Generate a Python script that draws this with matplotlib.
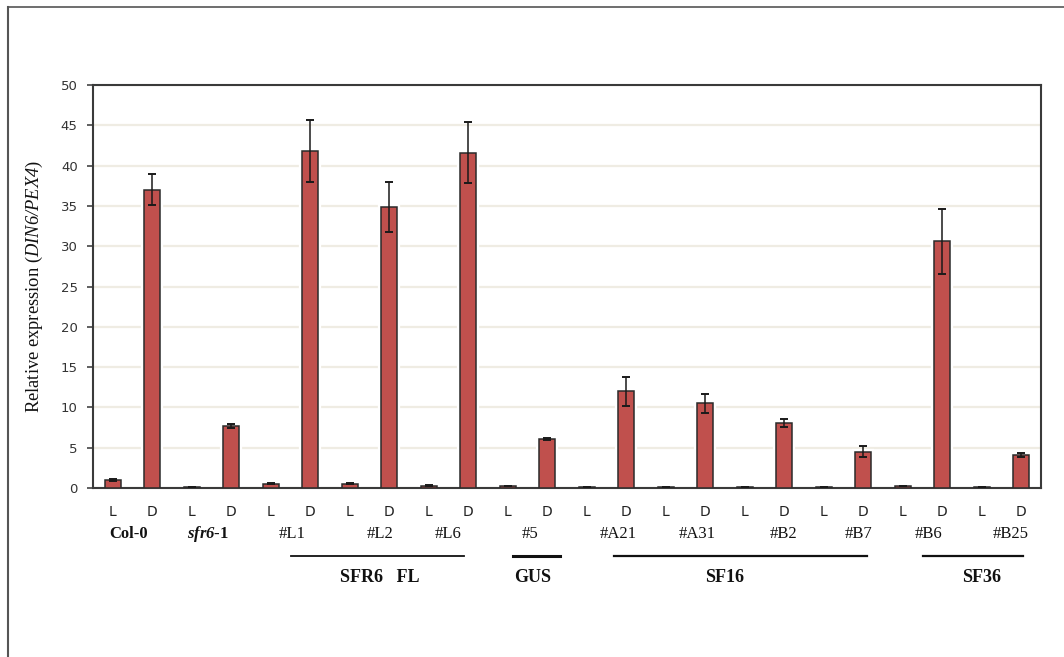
import matplotlib
matplotlib.use("Agg")
import matplotlib.pyplot as plt
from matplotlib.transforms import blended_transform_factory
from matplotlib.lines import Line2D
import numpy as np

# Math segments are used only for italic gene / mutant names
plt.rcParams["mathtext.fontset"] = "custom"
plt.rcParams["mathtext.rm"] = "Liberation Serif:italic"
plt.rcParams["mathtext.it"] = "Liberation Serif:italic"
plt.rcParams["mathtext.bf"] = "Liberation Serif:italic:bold"

# Light (L) / dark (D) pairs for each line
conditions = ["L", "D"] * 12
lines = ["Col-0", r"$\mathbf{sfr6}$-1", "#L1", "#L2", "#L6", "#5",
         "#A21", "#A31", "#B2", "#B7", "#B6", "#B25"]
line_bold = [True, True] + [False] * 10
line_label_x = [0.39, 2.41, 4.54, 6.77, 8.49, 10.56,
                12.79, 14.79, 16.97, 18.87, 20.66, 22.74]

expression = [1.0, 37.0, 0.1, 7.7, 0.55, 41.8, 0.55, 34.9, 0.3, 41.6, 0.25, 6.1,
              0.1, 12.0, 0.1, 10.5, 0.1, 8.1, 0.1, 4.5, 0.25, 30.6, 0.1, 4.1]
errors = [0.08, 1.9, 0.02, 0.2, 0.05, 3.8, 0.05, 3.1, 0.03, 3.8, 0.03, 0.15,
          0.02, 1.8, 0.02, 1.2, 0.02, 0.5, 0.02, 0.7, 0.03, 4.0, 0.02, 0.3]

groups = ["SFR6   FL", "GUS", "SF16", "SF36"]
group_spans = [(4.51, 8.89), (10.13, 11.32), (12.7, 19.1), (20.5, 23.05)]
group_label_x = [6.77, 10.64, 15.5, 22.0]
group_line_width = [1.3, 2.2, 1.6, 1.6]

W, H = 1064, 657
fig = plt.figure(figsize=(W / 100, H / 100), dpi=100)
fig.patch.set_facecolor("white")

# Outer frame (top and left edges)
fig.add_artist(Line2D([8 / W, 1.0], [1 - 7 / H, 1 - 7 / H], transform=fig.transFigure,
                      color="#555555", lw=1.2))
fig.add_artist(Line2D([8 / W, 8 / W], [0.0, 1 - 7 / H], transform=fig.transFigure,
                      color="#555555", lw=1.5))

ax = fig.add_axes([93 / W, 1 - 488 / H, (1041 - 93) / W, (488 - 85) / H])
x = np.arange(len(expression))

ax.set_ylim(0, 50)
ax.set_xlim(-0.5, len(expression) - 0.5)
ax.set_yticks(np.arange(0, 51, 5))
ax.yaxis.grid(True, color="#efece3", lw=1.6, zorder=0)
ax.set_axisbelow(True)

# White halo behind each bar, then the bar itself
ax.bar(x, expression, width=0.41, color="#c0504d", edgecolor="white", lw=4.5, zorder=2)
ax.bar(x, expression, width=0.41, color="#c0504d", edgecolor="#2b2b2b", lw=1.1, zorder=3)
ax.errorbar(x, expression, yerr=errors, fmt="none", ecolor="#1a1a1a", elinewidth=1.1,
            capsize=3.2, capthick=1.4, zorder=4)

ax.set_xticks([])
ax.tick_params(axis="y", direction="out", length=4, width=1.2, color="#444444",
               pad=7, labelsize=9.5, labelcolor="#333333")
for s in ax.spines.values():
    s.set_color("#3a3a3a")
    s.set_linewidth(1.5)

ax.set_ylabel(r"Relative expression ($\mathrm{DIN6/PEX4}$)", family="Liberation Serif",
              fontsize=13.3, labelpad=11, color="#111111")

trans = blended_transform_factory(ax.transData, fig.transFigure)

def fy(py):
    return 1 - py / H

for xi, c in zip(x, conditions):
    ax.text(xi, fy(512), c, transform=trans, ha="center", va="center",
            fontsize=10, color="#222222", family="DejaVu Sans")

for lx, name, bold in zip(line_label_x, lines, line_bold):
    ax.text(lx, fy(534), name, transform=trans, ha="center", va="center",
            fontsize=12, family="Liberation Serif",
            fontweight="bold" if bold else "normal", color="#111111")

for (x0, x1), lw in zip(group_spans, group_line_width):
    ax.add_artist(Line2D([x0, x1], [fy(556), fy(556)], transform=trans,
                         color="#111111", lw=lw, clip_on=False))

for gx, g in zip(group_label_x, groups):
    ax.text(gx, fy(578), g, transform=trans, ha="center", va="center",
            fontsize=13, family="Liberation Serif", fontweight="bold", color="#111111")

fig.savefig("out.png", dpi=100)
